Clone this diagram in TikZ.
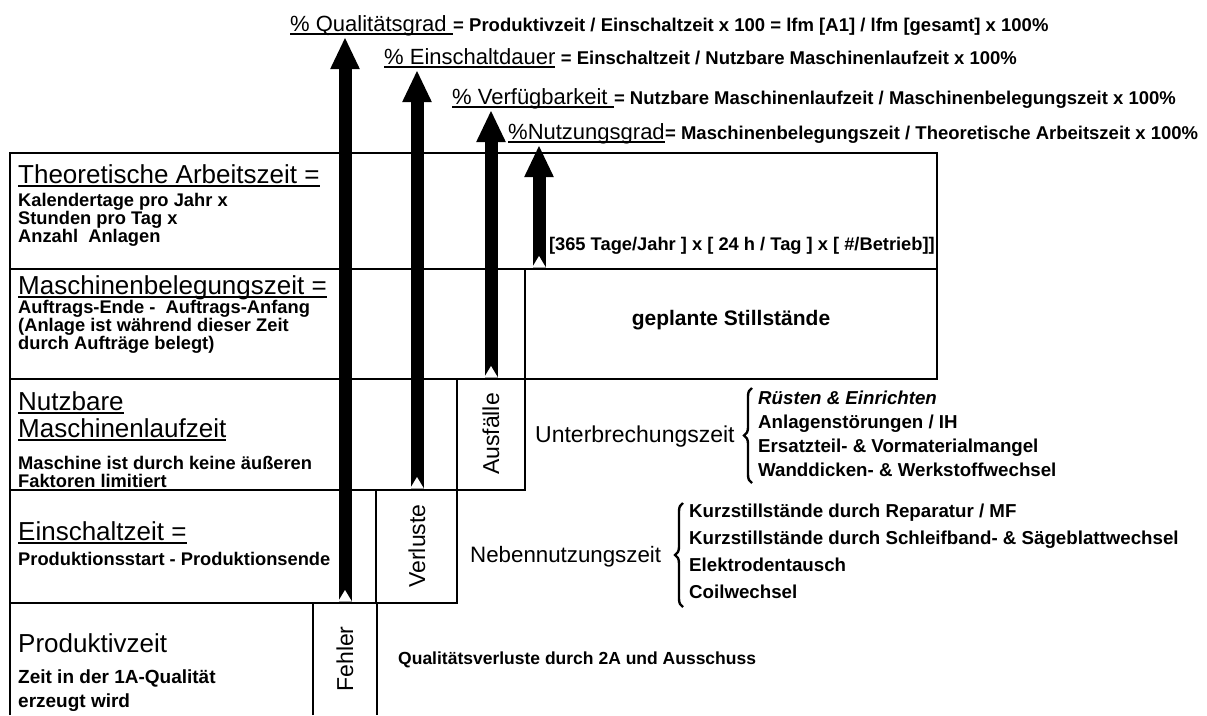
\documentclass[tikz,border=0pt]{standalone}
\usepackage{fontspec}
\setmainfont{Liberation Sans}
\usetikzlibrary{arrows.meta,decorations.pathreplacing}
\newcommand{\uln}[1]{\setbox0\hbox{#1}\leavevmode\rlap{\rule[-3.6pt]{\wd0}{1.3pt}}\box0}
\newcommand{\hdfont}{\fontsize{26}{28}\selectfont}
\newcommand{\txfont}{\fontsize{18.3}{17}\selectfont\bfseries}
\newcommand{\fmfont}{\fontsize{22}{24}\selectfont}
\newcommand{\lsfont}{\fontsize{18.7}{24}\selectfont\bfseries}
\newcommand{\lbfont}{\fontsize{23}{25}\selectfont}

\begin{document}
\begin{tikzpicture}[x=1pt,y=-1pt,
  box/.style={draw,line width=2.4pt},
  hd/.style={anchor=base west,inner sep=0pt,font=\hdfont},
  tx/.style={anchor=west,inner sep=0pt,align=left,font=\txfont},
  fm/.style={anchor=base west,inner sep=0pt,font=\fmfont},
  fmrest/.style={anchor=base west,inner sep=0pt,font=\fontsize{18.5}{20}\selectfont\bfseries},
  side/.style={rotate=90,inner sep=0pt,font=\lbfont},
  bar/.style={line width=13pt,-{Triangle[width=27pt,length=32pt]}},
  brc/.style={decorate,decoration={brace,amplitude=8pt},line width=2.4pt}]
  \useasboundingbox (0,0) rectangle (1207,715);
  % Kennzahlen oben
  \node[fm] (qgrad) at (290,31) {\uln{\% Qualitätsgrad\ }};
  \node[fmrest] (qtext) at (qgrad.base east) {= Produktivzeit / Einschaltzeit x 100 = lfm [A1] / lfm [gesamt] x 100\%};
  \node[fm] (edauer) at (384,64) {\uln{\% Einschaltdauer}};
  \node[fmrest] (etext) at (edauer.base east) {\ = Einschaltzeit / Nutzbare Maschinenlaufzeit x 100\%};
  \node[fm] (verf) at (452,104) {\uln{\% Verfügbarkeit\ }};
  \node[fmrest] (vtext) at (verf.base east) {= Nutzbare Maschinenlaufzeit / Maschinenbelegungszeit x 100\%};
  \node[fm] (nutz) at (508,139) {\uln{\%Nutzungsgrad}};
  \node[fmrest] (ntext) at (nutz.base east) {= Maschinenbelegungszeit / Theoretische Arbeitszeit x 100\%};
  % Zeilen
  \draw[box] (10,153) rectangle (937,269);
  \draw[box] (10,269) rectangle (525,379);
  \draw[box] (525,269) rectangle (937,379);
  \draw[box] (10,379) rectangle (457,490);
  \draw[box] (457,379) rectangle (525,490);
  \draw[box] (10,490) rectangle (376,603);
  \draw[box] (376,490) rectangle (457,603);
  \draw[box] (10,715) |- (313,603) -- (313,715);
  \draw[box] (313,715) |- (377,603) -- (377,715);
  % Theoretische Arbeitszeit
  \node[hd] (thA) at (18,183) {\uln{Theoretische Arbeitszeit =}};
  \node[tx] (thB) at (18,220) {Kalendertage pro Jahr x\\Stunden pro Tag x\\Anzahl\ \ Anlagen};
  \node[tx,anchor=base east] (thC) at (935,250) {[365 Tage/Jahr ] x [ 24 h / Tag ] x [ \#/Betrieb]]};
  % Maschinenbelegungszeit
  \node[hd] (mbA) at (18,294) {\uln{Maschinenbelegungszeit =}};
  \node[tx] (mbB) at (18,327) {Auftrags-Ende -\ \ Auftrags-Anfang\\(Anlage ist während dieser Zeit\\durch Aufträge belegt)};
  \node[tx,anchor=center,font=\fontsize{21}{24}\selectfont\bfseries] (plan) at (731,320) {geplante Stillstände};
  % Nutzbare Maschinenlaufzeit
  \node[hd] (nmA) at (18,410) {\uln{Nutzbare}};
  \node[hd] (nmB) at (18,437) {\uln{Maschinenlaufzeit}};
  \node[tx,font=\fontsize{18.3}{18.5}\selectfont\bfseries] (nmC) at (18,472) {Maschine ist durch keine äußeren\\Faktoren limitiert};
  \node[side] (ausf) at (491,434) {Ausfälle};
  \node[tx,font=\lbfont] (unterb) at (535,437) {Unterbrechungszeit};
  \node[tx,font=\lsfont] (unterl) at (758,434) {\textit{Rüsten \& Einrichten}\\Anlagenstörungen / IH\\Ersatzteil- \& Vormaterialmangel\\Wanddicken- \& Werkstoffwechsel};
  \draw[brc] (752,483) -- (752,388);
  % Einschaltzeit
  \node[hd] (esA) at (18,540) {\uln{Einschaltzeit =}};
  \node[tx] (esB) at (18,559) {Produktionsstart - Produktionsende};
  \node[side] (verl) at (417,546) {Verluste};
  \node[tx,font=\fontsize{22.3}{25}\selectfont] (neben) at (470,557) {Nebennutzungszeit};
  \node[tx,font=\fontsize{18.7}{27}\selectfont\bfseries] (nebenl) at (689,551) {Kurzstillstände durch Reparatur / MF\\Kurzstillstände durch Schleifband- \& Sägeblattwechsel\\Elektrodentausch\\Coilwechsel};
  \draw[brc] (683,607) -- (683,503);
  % Produktivzeit
  \node[hd] (pzA) at (18,652) {Produktivzeit};
  \node[tx,font=\fontsize{19}{24}\selectfont\bfseries] (pzB) at (18,691) {Zeit in der 1A-Qualität\\erzeugt wird};
  \node[side] (fehl) at (345,659) {Fehler};
  \node[tx,font=\fontsize{17.5}{20}\selectfont\bfseries] (qverl) at (398,660) {Qualitätsverluste durch 2A und Ausschuss};
  % Pfeile
  \coordinate (q0) at (345,603);
  \coordinate (e0) at (417,490);
  \coordinate (v0) at (491,379);
  \coordinate (n0) at (539,269);
  \foreach \s/\t in {q0/qgrad,e0/edauer,v0/verf,n0/nutz}{
    \draw[bar] (\s) -- ([yshift=-6pt]\s |- \t.base);
    \fill[white] ([xshift=-7pt,yshift=1.3pt]\s) -- ([yshift=13pt]\s) -- ([xshift=7pt,yshift=1.3pt]\s) -- cycle;
  }
\end{tikzpicture}
\end{document}
